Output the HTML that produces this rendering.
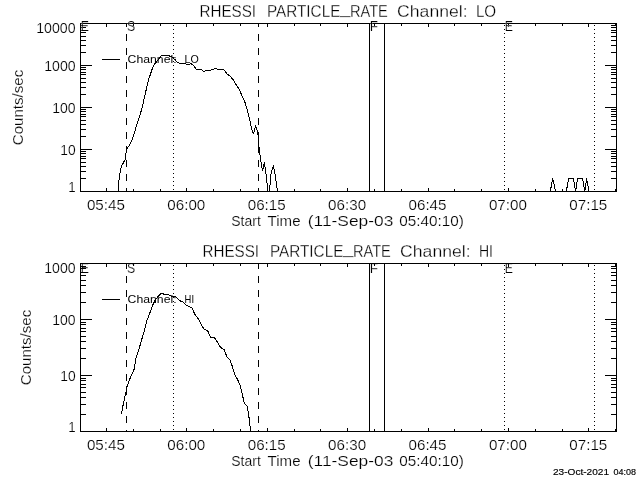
<!DOCTYPE html>
<html><head><meta charset="utf-8"><title>RHESSI PARTICLE_RATE</title>
<style>html,body{margin:0;padding:0;background:#fff;overflow:hidden}svg{display:block;will-change:transform}text{font-family:"Liberation Sans",sans-serif;fill:#000;stroke:#fff;stroke-width:.2px;paint-order:fill stroke}.t{stroke-width:.3px}.g{stroke-width:0}.d{stroke:#000;stroke-width:.15px}.l{stroke:#000;stroke-width:1;fill:none;shape-rendering:crispEdges}.c{stroke:#000;stroke-width:1;fill:none;shape-rendering:crispEdges;stroke-linejoin:round}</style></head><body>
<svg width="640" height="480" viewBox="0 0 640 480">
<rect width="640" height="480" fill="#fff"/>
<path class="l" d="M80 23.5H617M80 191.5H617M80.5 23V192M616.5 23V192M80 178.5H86M611 178.5H617M80 171.5H86M611 171.5H617M80 166.5H86M611 166.5H617M80 162.5H86M611 162.5H617M80 158.5H86M611 158.5H617M80 156.5H86M611 156.5H617M80 153.5H86M611 153.5H617M80 151.5H86M611 151.5H617M80 149.5H92M605 149.5H617M80 136.5H86M611 136.5H617M80 129.5H86M611 129.5H617M80 124.5H86M611 124.5H617M80 120.5H86M611 120.5H617M80 116.5H86M611 116.5H617M80 114.5H86M611 114.5H617M80 111.5H86M611 111.5H617M80 109.5H86M611 109.5H617M80 107.5H92M605 107.5H617M80 94.5H86M611 94.5H617M80 87.5H86M611 87.5H617M80 82.5H86M611 82.5H617M80 78.5H86M611 78.5H617M80 74.5H86M611 74.5H617M80 72.5H86M611 72.5H617M80 69.5H86M611 69.5H617M80 67.5H86M611 67.5H617M80 65.5H92M605 65.5H617M80 52.5H86M611 52.5H617M80 45.5H86M611 45.5H617M80 40.5H86M611 40.5H617M80 36.5H86M611 36.5H617M80 32.5H86M611 32.5H617M80 30.5H86M611 30.5H617M80 27.5H86M611 27.5H617M80 25.5H86M611 25.5H617M106.5 188V192M106.5 23V27M133.5 189V192M133.5 23V26M160.5 189V192M160.5 23V26M186.5 188V192M186.5 23V27M213.5 189V192M213.5 23V26M240.5 189V192M240.5 23V26M267.5 188V192M267.5 23V27M294.5 189V192M294.5 23V26M320.5 189V192M320.5 23V26M347.5 188V192M347.5 23V27M374.5 189V192M374.5 23V26M401.5 189V192M401.5 23V26M428.5 188V192M428.5 23V27M454.5 189V192M454.5 23V26M481.5 189V192M481.5 23V26M508.5 188V192M508.5 23V27M535.5 189V192M535.5 23V26M562.5 189V192M562.5 23V26M588.5 188V192M588.5 23V27M615.5 189V192M615.5 23V26"/>
<text class="g" x="127.6" y="63" font-size="11.6"><tspan textLength="49" lengthAdjust="spacingAndGlyphs">Channel:</tspan> <tspan x="184.6" textLength="14.2" lengthAdjust="spacingAndGlyphs">LO</tspan></text>
<text x="80.75" y="31" font-size="14.4" textLength="8.2" lengthAdjust="spacingAndGlyphs">E</text>
<text x="127.0" y="31" font-size="14.4" textLength="8.2" lengthAdjust="spacingAndGlyphs">S</text>
<text x="369.75" y="31" font-size="14.4" textLength="8.2" lengthAdjust="spacingAndGlyphs">F</text>
<text x="504.75" y="31" font-size="14.4" textLength="8.2" lengthAdjust="spacingAndGlyphs">E</text>
<text class="t" y="17" font-size="17.3"><tspan x="199.5" textLength="56.5" lengthAdjust="spacingAndGlyphs">RHESSI</tspan> <tspan x="266.9" textLength="73.5" lengthAdjust="spacingAndGlyphs">PARTICLE</tspan><tspan x="339.9" dy="-2.6" textLength="10.4" lengthAdjust="spacingAndGlyphs">_</tspan><tspan x="349.9" dy="2.6" textLength="38" lengthAdjust="spacingAndGlyphs">RATE</tspan> <tspan x="397.1" textLength="70.5" lengthAdjust="spacingAndGlyphs">Channel:</tspan> <tspan x="475.90000000000003" textLength="20.3" lengthAdjust="spacingAndGlyphs">LO</tspan></text>
<text x="105.9" y="210" font-size="14.4" text-anchor="middle" textLength="38" lengthAdjust="spacingAndGlyphs">05:45</text>
<text x="186.3" y="210" font-size="14.4" text-anchor="middle" textLength="38" lengthAdjust="spacingAndGlyphs">06:00</text>
<text x="266.7" y="210" font-size="14.4" text-anchor="middle" textLength="38" lengthAdjust="spacingAndGlyphs">06:15</text>
<text x="347.1" y="210" font-size="14.4" text-anchor="middle" textLength="38" lengthAdjust="spacingAndGlyphs">06:30</text>
<text x="427.5" y="210" font-size="14.4" text-anchor="middle" textLength="38" lengthAdjust="spacingAndGlyphs">06:45</text>
<text x="507.9" y="210" font-size="14.4" text-anchor="middle" textLength="38" lengthAdjust="spacingAndGlyphs">07:00</text>
<text x="588.3" y="210" font-size="14.4" text-anchor="middle" textLength="38" lengthAdjust="spacingAndGlyphs">07:15</text>
<text y="226" font-size="14.4"><tspan x="231.3" textLength="29.5" lengthAdjust="spacingAndGlyphs">Start</tspan> <tspan x="267.6" textLength="33" lengthAdjust="spacingAndGlyphs">Time</tspan> <tspan x="307.8" textLength="85.5" lengthAdjust="spacingAndGlyphs">(11-Sep-03</tspan> <tspan x="399.3" textLength="64.5" lengthAdjust="spacingAndGlyphs">05:40:10)</tspan></text>
<text x="75.6" y="33" font-size="14.4" text-anchor="end" textLength="39.4" lengthAdjust="spacingAndGlyphs">10000</text>
<text x="75.6" y="71" font-size="14.4" text-anchor="end" textLength="31.4" lengthAdjust="spacingAndGlyphs">1000</text>
<text x="75.6" y="113" font-size="14.4" text-anchor="end" textLength="23.4" lengthAdjust="spacingAndGlyphs">100</text>
<text x="75.6" y="155" font-size="14.4" text-anchor="end" textLength="15.4" lengthAdjust="spacingAndGlyphs">10</text>
<text x="75.6" y="192" font-size="14.4" text-anchor="end" textLength="7.4" lengthAdjust="spacingAndGlyphs">1</text>
<text transform="translate(23 107.5) rotate(-90)" font-size="14.4" text-anchor="middle" textLength="75.5" lengthAdjust="spacingAndGlyphs">Counts/sec</text>
<text class="g" x="127.6" y="303" font-size="11.6"><tspan textLength="49" lengthAdjust="spacingAndGlyphs">Channel:</tspan> <tspan x="184.6" textLength="9.4" lengthAdjust="spacingAndGlyphs">HI</tspan></text>
<text x="80.75" y="273" font-size="14.4" textLength="8.2" lengthAdjust="spacingAndGlyphs">E</text>
<text x="127.0" y="273" font-size="14.4" textLength="8.2" lengthAdjust="spacingAndGlyphs">S</text>
<text x="369.75" y="273" font-size="14.4" textLength="8.2" lengthAdjust="spacingAndGlyphs">F</text>
<text x="504.75" y="273" font-size="14.4" textLength="8.2" lengthAdjust="spacingAndGlyphs">E</text>
<text class="t" y="257" font-size="17.3"><tspan x="202.5" textLength="56.5" lengthAdjust="spacingAndGlyphs">RHESSI</tspan> <tspan x="269.9" textLength="73.5" lengthAdjust="spacingAndGlyphs">PARTICLE</tspan><tspan x="342.9" dy="-2.6" textLength="10.4" lengthAdjust="spacingAndGlyphs">_</tspan><tspan x="352.9" dy="2.6" textLength="38" lengthAdjust="spacingAndGlyphs">RATE</tspan> <tspan x="400.1" textLength="70.5" lengthAdjust="spacingAndGlyphs">Channel:</tspan> <tspan x="478.90000000000003" textLength="14" lengthAdjust="spacingAndGlyphs">HI</tspan></text>
<text x="105.9" y="450" font-size="14.4" text-anchor="middle" textLength="38" lengthAdjust="spacingAndGlyphs">05:45</text>
<text x="186.3" y="450" font-size="14.4" text-anchor="middle" textLength="38" lengthAdjust="spacingAndGlyphs">06:00</text>
<text x="266.7" y="450" font-size="14.4" text-anchor="middle" textLength="38" lengthAdjust="spacingAndGlyphs">06:15</text>
<text x="347.1" y="450" font-size="14.4" text-anchor="middle" textLength="38" lengthAdjust="spacingAndGlyphs">06:30</text>
<text x="427.5" y="450" font-size="14.4" text-anchor="middle" textLength="38" lengthAdjust="spacingAndGlyphs">06:45</text>
<text x="507.9" y="450" font-size="14.4" text-anchor="middle" textLength="38" lengthAdjust="spacingAndGlyphs">07:00</text>
<text x="588.3" y="450" font-size="14.4" text-anchor="middle" textLength="38" lengthAdjust="spacingAndGlyphs">07:15</text>
<text y="466" font-size="14.4"><tspan x="231.3" textLength="29.5" lengthAdjust="spacingAndGlyphs">Start</tspan> <tspan x="267.6" textLength="33" lengthAdjust="spacingAndGlyphs">Time</tspan> <tspan x="307.8" textLength="85.5" lengthAdjust="spacingAndGlyphs">(11-Sep-03</tspan> <tspan x="399.3" textLength="64.5" lengthAdjust="spacingAndGlyphs">05:40:10)</tspan></text>
<text x="75.6" y="273" font-size="14.4" text-anchor="end" textLength="31.4" lengthAdjust="spacingAndGlyphs">1000</text>
<text x="75.6" y="325" font-size="14.4" text-anchor="end" textLength="23.4" lengthAdjust="spacingAndGlyphs">100</text>
<text x="75.6" y="381" font-size="14.4" text-anchor="end" textLength="15.4" lengthAdjust="spacingAndGlyphs">10</text>
<text x="75.6" y="432" font-size="14.4" text-anchor="end" textLength="7.4" lengthAdjust="spacingAndGlyphs">1</text>
<text transform="translate(31 347.5) rotate(-90)" font-size="14.4" text-anchor="middle" textLength="75.5" lengthAdjust="spacingAndGlyphs">Counts/sec</text>
<text class="d" y="475.3" font-size="8.6"><tspan x="553" textLength="56" lengthAdjust="spacingAndGlyphs">23-Oct-2021</tspan> <tspan x="613.6" textLength="22.5" lengthAdjust="spacingAndGlyphs">04:08</tspan></text>
<path class="l" d="M369.5 23V192M384.5 23V192"/>
<path class="l" d="M173 25.5h1M173 29.5h1M173 33.5h1M173 37.5h1M173 41.5h1M173 45.5h1M173 49.5h1M173 53.5h1M173 57.5h1M173 61.5h1M173 65.5h1M173 69.5h1M173 73.5h1M173 77.5h1M173 81.5h1M173 85.5h1M173 89.5h1M173 93.5h1M173 97.5h1M173 101.5h1M173 105.5h1M173 109.5h1M173 113.5h1M173 117.5h1M173 121.5h1M173 125.5h1M173 129.5h1M173 133.5h1M173 137.5h1M173 141.5h1M173 145.5h1M173 149.5h1M173 153.5h1M173 157.5h1M173 161.5h1M173 165.5h1M173 169.5h1M173 173.5h1M173 177.5h1M173 181.5h1M173 185.5h1M173 189.5h1M504 25.5h1M504 29.5h1M504 33.5h1M504 37.5h1M504 41.5h1M504 45.5h1M504 49.5h1M504 53.5h1M504 57.5h1M504 61.5h1M504 65.5h1M504 69.5h1M504 73.5h1M504 77.5h1M504 81.5h1M504 85.5h1M504 89.5h1M504 93.5h1M504 97.5h1M504 101.5h1M504 105.5h1M504 109.5h1M504 113.5h1M504 117.5h1M504 121.5h1M504 125.5h1M504 129.5h1M504 133.5h1M504 137.5h1M504 141.5h1M504 145.5h1M504 149.5h1M504 153.5h1M504 157.5h1M504 161.5h1M504 165.5h1M504 169.5h1M504 173.5h1M504 177.5h1M504 181.5h1M504 185.5h1M504 189.5h1M594 25.5h1M594 29.5h1M594 33.5h1M594 37.5h1M594 41.5h1M594 45.5h1M594 49.5h1M594 53.5h1M594 57.5h1M594 61.5h1M594 65.5h1M594 69.5h1M594 73.5h1M594 77.5h1M594 81.5h1M594 85.5h1M594 89.5h1M594 93.5h1M594 97.5h1M594 101.5h1M594 105.5h1M594 109.5h1M594 113.5h1M594 117.5h1M594 121.5h1M594 125.5h1M594 129.5h1M594 133.5h1M594 137.5h1M594 141.5h1M594 145.5h1M594 149.5h1M594 153.5h1M594 157.5h1M594 161.5h1M594 165.5h1M594 169.5h1M594 173.5h1M594 177.5h1M594 181.5h1M594 185.5h1M594 189.5h1"/>
<path class="l" d="M126.5 23V27M126.5 34V41M126.5 48V55M126.5 62V69M126.5 76V83M126.5 90V97M126.5 104V111M126.5 118V125M126.5 132V139M126.5 146V153M126.5 160V167M126.5 174V181M126.5 188V192M258.5 23V27M258.5 34V41M258.5 48V55M258.5 62V69M258.5 76V83M258.5 90V97M258.5 104V111M258.5 118V125M258.5 132V139M258.5 146V153M258.5 160V167M258.5 174V181M258.5 188V192"/>
<polyline class="c" points="118.40,191.50 118.50,185.00 119.40,176.25 120.60,170.00 121.50,166.25 125.60,158.75 125.90,153.75 126.90,148.75 130.00,144.40 132.10,139.40 134.40,133.00 135.60,128.75 138.75,118.75 141.90,108.75 144.40,97.50 146.60,88.00 148.75,79.00 150.00,75.50 152.50,68.00 155.00,63.60 156.90,61.40 159.40,58.30 161.25,55.60 165.00,55.30 169.00,55.80 172.00,57.00 175.00,59.60 177.50,62.40 179.40,63.30 185.00,63.30 186.90,65.00 191.25,63.75 193.75,65.60 196.25,69.40 201.25,69.40 203.75,72.00 206.25,70.40 210.00,70.40 212.50,69.40 215.60,68.50 219.40,70.00 223.10,69.40 225.00,71.25 226.90,73.75 230.00,76.25 233.10,79.40 235.60,83.75 238.10,87.50 240.60,92.50 243.75,99.75 244.40,100.60 247.50,110.60 250.00,121.25 251.90,130.00 253.50,133.50 255.60,125.60 257.75,132.50 258.75,143.75 259.40,150.50 260.60,159.25 262.50,170.75 264.40,162.40 266.00,174.25 268.10,191.50 269.40,191.50 271.25,171.75 273.50,166.00 275.00,174.25 277.50,191.50"/>
<polyline class="c" points="550.25,191.50 552.75,178.50 555.60,191.50"/>
<polyline class="c" points="566.25,191.50 568.75,178.50 573.50,178.50 575.60,191.50 577.50,178.50 582.50,178.50 584.75,191.50 586.60,178.50 589.00,191.50"/>
<path class="l" d="M102 59.5H120"/>
<path class="l" d="M80 263.5H617M80 431.5H617M80.5 263V432M616.5 263V432M80 414.5H86M611 414.5H617M80 404.5H86M611 404.5H617M80 397.5H86M611 397.5H617M80 392.5H86M611 392.5H617M80 387.5H86M611 387.5H617M80 384.5H86M611 384.5H617M80 380.5H86M611 380.5H617M80 378.5H86M611 378.5H617M80 375.5H92M605 375.5H617M80 358.5H86M611 358.5H617M80 348.5H86M611 348.5H617M80 341.5H86M611 341.5H617M80 336.5H86M611 336.5H617M80 331.5H86M611 331.5H617M80 328.5H86M611 328.5H617M80 324.5H86M611 324.5H617M80 322.5H86M611 322.5H617M80 319.5H92M605 319.5H617M80 302.5H86M611 302.5H617M80 292.5H86M611 292.5H617M80 285.5H86M611 285.5H617M80 280.5H86M611 280.5H617M80 275.5H86M611 275.5H617M80 272.5H86M611 272.5H617M80 268.5H86M611 268.5H617M80 266.5H86M611 266.5H617M106.5 428V432M106.5 263V267M133.5 429V432M133.5 263V266M160.5 429V432M160.5 263V266M186.5 428V432M186.5 263V267M213.5 429V432M213.5 263V266M240.5 429V432M240.5 263V266M267.5 428V432M267.5 263V267M294.5 429V432M294.5 263V266M320.5 429V432M320.5 263V266M347.5 428V432M347.5 263V267M374.5 429V432M374.5 263V266M401.5 429V432M401.5 263V266M428.5 428V432M428.5 263V267M454.5 429V432M454.5 263V266M481.5 429V432M481.5 263V266M508.5 428V432M508.5 263V267M535.5 429V432M535.5 263V266M562.5 429V432M562.5 263V266M588.5 428V432M588.5 263V267M615.5 429V432M615.5 263V266"/>
<path class="l" d="M369.5 263V432M384.5 263V432"/>
<path class="l" d="M173 265.5h1M173 269.5h1M173 273.5h1M173 277.5h1M173 281.5h1M173 285.5h1M173 289.5h1M173 293.5h1M173 297.5h1M173 301.5h1M173 305.5h1M173 309.5h1M173 313.5h1M173 317.5h1M173 321.5h1M173 325.5h1M173 329.5h1M173 333.5h1M173 337.5h1M173 341.5h1M173 345.5h1M173 349.5h1M173 353.5h1M173 357.5h1M173 361.5h1M173 365.5h1M173 369.5h1M173 373.5h1M173 377.5h1M173 381.5h1M173 385.5h1M173 389.5h1M173 393.5h1M173 397.5h1M173 401.5h1M173 405.5h1M173 409.5h1M173 413.5h1M173 417.5h1M173 421.5h1M173 425.5h1M173 429.5h1M504 265.5h1M504 269.5h1M504 273.5h1M504 277.5h1M504 281.5h1M504 285.5h1M504 289.5h1M504 293.5h1M504 297.5h1M504 301.5h1M504 305.5h1M504 309.5h1M504 313.5h1M504 317.5h1M504 321.5h1M504 325.5h1M504 329.5h1M504 333.5h1M504 337.5h1M504 341.5h1M504 345.5h1M504 349.5h1M504 353.5h1M504 357.5h1M504 361.5h1M504 365.5h1M504 369.5h1M504 373.5h1M504 377.5h1M504 381.5h1M504 385.5h1M504 389.5h1M504 393.5h1M504 397.5h1M504 401.5h1M504 405.5h1M504 409.5h1M504 413.5h1M504 417.5h1M504 421.5h1M504 425.5h1M504 429.5h1M594 265.5h1M594 269.5h1M594 273.5h1M594 277.5h1M594 281.5h1M594 285.5h1M594 289.5h1M594 293.5h1M594 297.5h1M594 301.5h1M594 305.5h1M594 309.5h1M594 313.5h1M594 317.5h1M594 321.5h1M594 325.5h1M594 329.5h1M594 333.5h1M594 337.5h1M594 341.5h1M594 345.5h1M594 349.5h1M594 353.5h1M594 357.5h1M594 361.5h1M594 365.5h1M594 369.5h1M594 373.5h1M594 377.5h1M594 381.5h1M594 385.5h1M594 389.5h1M594 393.5h1M594 397.5h1M594 401.5h1M594 405.5h1M594 409.5h1M594 413.5h1M594 417.5h1M594 421.5h1M594 425.5h1M594 429.5h1"/>
<path class="l" d="M126.5 263V269M126.5 276V283M126.5 290V297M126.5 304V311M126.5 318V325M126.5 332V339M126.5 346V353M126.5 360V367M126.5 374V381M126.5 388V395M126.5 402V409M126.5 416V423M126.5 430V432M258.5 263V269M258.5 276V283M258.5 290V297M258.5 304V311M258.5 318V325M258.5 332V339M258.5 346V353M258.5 360V367M258.5 374V381M258.5 388V395M258.5 402V409M258.5 416V423M258.5 430V432"/>
<polyline class="c" points="121.50,414.40 123.10,405.00 125.60,393.75 126.90,386.90 129.40,380.00 131.50,375.00 134.40,368.75 135.60,358.75 138.75,350.00 141.70,339.50 144.40,330.50 146.90,320.60 150.00,312.50 152.50,305.60 155.00,300.60 158.10,296.25 161.25,293.10 164.40,294.40 168.10,294.40 171.25,296.25 175.60,296.90 179.40,300.60 183.10,301.90 186.25,305.00 191.90,308.10 195.00,314.40 198.75,319.40 202.50,326.90 203.75,328.75 207.80,331.00 210.60,337.80 214.40,337.50 218.10,343.10 220.60,347.50 224.40,350.00 226.90,356.90 230.00,360.00 232.50,366.90 234.40,373.75 237.50,379.40 240.00,385.00 241.90,392.50 244.40,403.75 246.90,405.60 248.10,411.25 249.40,420.00 250.60,431.50"/>
<path class="l" d="M102 299.5H120"/>
</svg></body></html>
